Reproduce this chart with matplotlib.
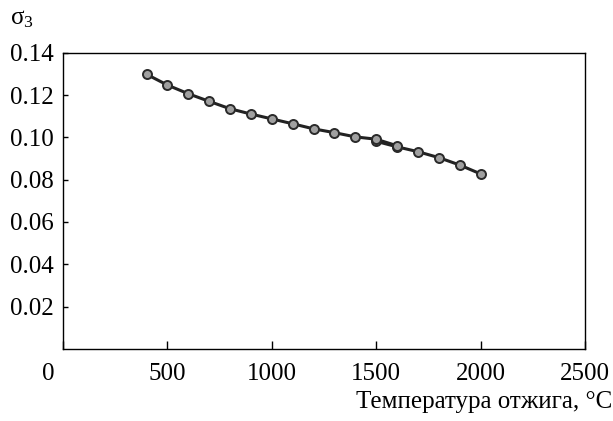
import numpy as np
import matplotlib
matplotlib.use("Agg")
import matplotlib.pyplot as plt
from matplotlib.transforms import ScaledTranslation

plt.rcParams['font.family'] = ['Liberation Serif', 'DejaVu Serif']
plt.rcParams['mathtext.fontset'] = 'custom'
plt.rcParams['mathtext.rm'] = 'Liberation Serif'

# two overlapping runs
temp_a = [400, 500, 600, 700, 800, 900, 1000, 1100, 1200, 1300, 1400, 1500, 1600]
sigma_a = [0.1298, 0.1247, 0.1206, 0.1170, 0.1135, 0.1110, 0.1087, 0.1064,
           0.1040, 0.1022, 0.1002, 0.0991, 0.0960]
temp_b = [1500, 1600, 1700, 1800, 1900, 2000]
sigma_b = [0.0981, 0.0955, 0.0932, 0.0904, 0.0869, 0.0827]

xticks = [0, 500, 1000, 1500, 2000, 2500]
yticks = [0.02, 0.04, 0.06, 0.08, 0.10, 0.12, 0.14]

fig = plt.figure(figsize=(6.13, 4.21), dpi=100)
ax = fig.add_axes([0.1028, 0.1715, 0.8515, 0.7033])

style = dict(color='#222222', lw=2.2, marker='o', ms=6.5, mfc='#a0a0a0',
             mec='#2a2a2a', mew=1.4)
ax.plot(temp_b, sigma_b, **style)
ax.plot(temp_a, sigma_a, **style)

ax.set_xlim(0, 2500)
ax.set_ylim(0, 0.14)
ax.set_xticks(xticks)
ax.set_xticklabels([str(t) for t in xticks])
ax.set_yticks(yticks)
ax.set_yticklabels([f"{v:.2f}" for v in yticks])
ax.tick_params(axis='x', direction='in', length=6, width=1, pad=10.5, labelsize=18)
ax.tick_params(axis='y', direction='in', length=3.5, width=1, pad=7, labelsize=18)
for s in ax.spines.values():
    s.set_linewidth(1.0)

# the origin "0" sits left of the corner
lbl0 = ax.get_xticklabels()[0]
lbl0.set_transform(lbl0.get_transform() + ScaledTranslation(-0.15, 0, fig.dpi_scale_trans))

fig.text(0.998, 0.046, "Температура отжига, °C", ha='right', va='center', fontsize=18)
fig.text(0.016, 0.955, r"$\mathregular{σ_3}$", ha='left', va='center', fontsize=18)

fig.savefig("out.png", dpi=100)
